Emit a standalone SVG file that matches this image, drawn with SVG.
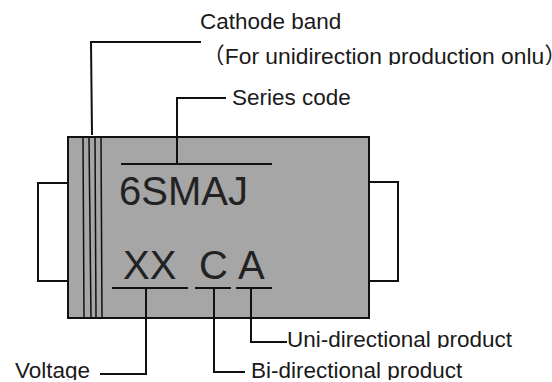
<svg xmlns="http://www.w3.org/2000/svg" width="552" height="382" viewBox="0 0 552 382">
<style>
text{font-family:"Liberation Sans","Noto Sans CJK SC",sans-serif;fill:#1a1a1a}
.l{font-size:22.5px}
.m{font-size:40px;fill:#222}
.w{fill:none;stroke:#111;stroke-width:2}
.t{fill:none;stroke:#111;stroke-width:1.5}
</style>
<defs>
<clipPath id="c1"><rect x="190" y="40" width="362" height="25"/></clipPath>
<clipPath id="c2"><rect x="270" y="320" width="282" height="28"/></clipPath>
<clipPath id="c3"><rect x="0" y="350" width="552" height="30"/></clipPath>
</defs>
<g id="lead-left"><rect x="38" y="183" width="31" height="98" fill="#fff" class="w"/></g>
<g id="lead-right"><rect x="369" y="182" width="29" height="99" fill="#fff" class="w"/></g>
<g id="body"><rect x="68" y="137" width="301" height="181" fill="#a6a6a6" stroke="#111" stroke-width="2"/>
<path class="t" d="M83 138L84 318M89 138L91 318M95 138L96 318M101 138L102 318"/></g>
<g id="connectors">
<path class="w" d="M92 135L91 42H201"/>
<path class="w" d="M226 98H177V164"/>
<path class="w" d="M121 164H272"/>
<path class="w" d="M112 288H188M146 288V374H100"/>
<path class="w" d="M195 288H231M214 288V372H245"/>
<path class="w" d="M236 288H272M251 288V342H287"/>
</g>
<g id="labels">
<text class="l" x="200" y="29">Cathode band</text>
<text class="l" x="202" y="64" style="font-size:22.8px" clip-path="url(#c1)">（For unidirection production onlu）</text>
<text class="l" x="232" y="105">Series code</text>
<text class="m" x="119" y="205">6SMAJ</text>
<text class="m" x="123" y="279">XX</text>
<text class="m" x="199" y="279">C</text>
<text class="m" x="238" y="279">A</text>
<text class="l" x="287" y="347" clip-path="url(#c2)">Uni-directional product</text>
<text class="l" x="251" y="378" clip-path="url(#c3)">Bi-directional product</text>
<text class="l" x="15" y="378" clip-path="url(#c3)">Voltage</text>
</g>
</svg>
